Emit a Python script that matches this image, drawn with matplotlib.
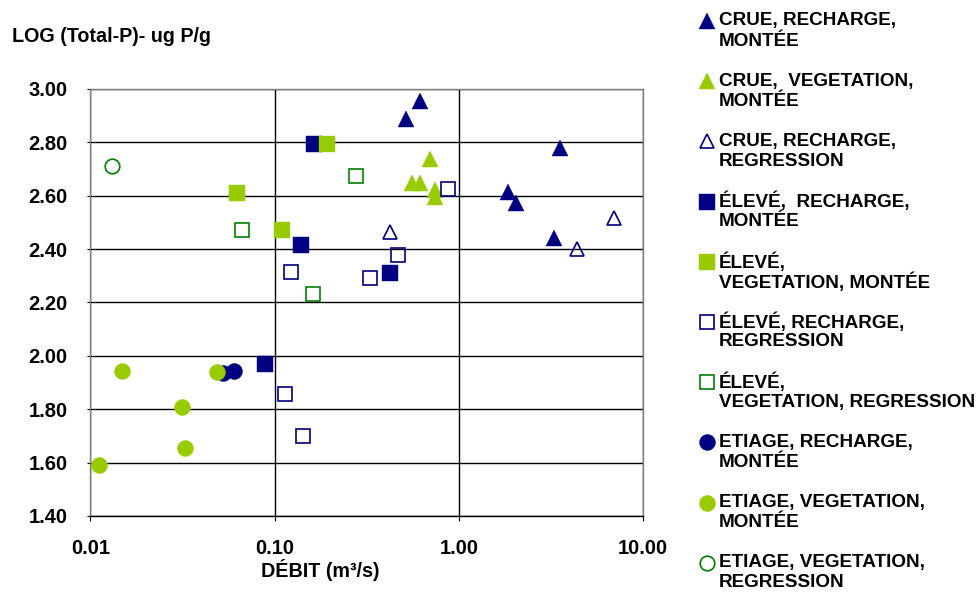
import numpy as np
import matplotlib
matplotlib.use("Agg")
import matplotlib.pyplot as plt
import matplotlib.ticker as mticker

plt.rcParams['font.family'] = ['Liberation Sans', 'DejaVu Sans']
plt.rcParams['font.weight'] = 'bold'

NAVY = '#000080'
LIME = '#99CC00'
GREEN = '#008000'

labels = ["CRUE, RECHARGE,\nMONTÉE",
          "CRUE,  VEGETATION,\nMONTÉE",
          "CRUE, RECHARGE,\nREGRESSION",
          "ÉLEVÉ,  RECHARGE,\nMONTÉE",
          "ÉLEVÉ,\nVEGETATION, MONTÉE",
          "ÉLEVÉ, RECHARGE,\nREGRESSION",
          "ÉLEVÉ,\nVEGETATION, REGRESSION",
          "ETIAGE, RECHARGE,\nMONTÉE",
          "ETIAGE, VEGETATION,\nMONTÉE",
          "ETIAGE, VEGETATION,\nREGRESSION"]

# debit (m3/s) and log(total P) for each group
crue_rech_mont_x = [0.618, 0.514, 3.53, 1.85, 2.05, 3.27]
crue_rech_mont_y = [2.956, 2.888, 2.778, 2.615, 2.574, 2.441]
crue_veg_mont_x = [0.694, 0.557, 0.612, 0.745, 0.745]
crue_veg_mont_y = [2.737, 2.647, 2.649, 2.621, 2.594]
crue_rech_regr_x = [6.93, 4.38, 0.425]
crue_rech_regr_y = [2.515, 2.399, 2.463]
eleve_rech_mont_x = [0.1626, 0.1387, 0.425, 0.0882]
eleve_rech_mont_y = [2.794, 2.415, 2.309, 1.970]
eleve_veg_mont_x = [0.1936, 0.0628, 0.1094]
eleve_veg_mont_y = [2.795, 2.609, 2.471]
eleve_rech_regr_x = [0.873, 0.122, 0.330, 0.465, 0.1135, 0.142]
eleve_rech_regr_y = [2.624, 2.315, 2.293, 2.378, 1.858, 1.699]
eleve_veg_regr_x = [0.275, 0.0668, 0.1615]
eleve_veg_regr_y = [2.675, 2.471, 2.232]
etiage_rech_mont_x = [0.0527, 0.0603]
etiage_rech_mont_y = [1.937, 1.944]
etiage_veg_mont_x = [0.0149, 0.0489, 0.0314, 0.0327, 0.0111]
etiage_veg_mont_y = [1.944, 1.941, 1.807, 1.654, 1.592]
etiage_veg_regr_x = [0.0131]
etiage_veg_regr_y = [2.710]

series = [
    (crue_rech_mont_x, crue_rech_mont_y, '^', NAVY, True),
    (crue_veg_mont_x, crue_veg_mont_y, '^', LIME, True),
    (crue_rech_regr_x, crue_rech_regr_y, '^', NAVY, False),
    (eleve_rech_mont_x, eleve_rech_mont_y, 's', NAVY, True),
    (eleve_veg_mont_x, eleve_veg_mont_y, 's', LIME, True),
    (eleve_rech_regr_x, eleve_rech_regr_y, 's', NAVY, False),
    (eleve_veg_regr_x, eleve_veg_regr_y, 's', GREEN, False),
    (etiage_rech_mont_x, etiage_rech_mont_y, 'o', NAVY, True),
    (etiage_veg_mont_x, etiage_veg_mont_y, 'o', LIME, True),
    (etiage_veg_regr_x, etiage_veg_regr_y, 'o', GREEN, False),
]

fig = plt.figure(figsize=(9.8, 5.92), dpi=100)
ax = fig.add_axes([0.0923, 0.1284, 0.5638, 0.7213])


def style(marker, color, filled):
    if filled:
        return dict(marker=marker, markersize=11.5, markerfacecolor=color,
                    markeredgecolor=color, markeredgewidth=0.3, linestyle='none')
    return dict(marker=marker, markersize=10.5, markerfacecolor='none',
                markeredgecolor=color, markeredgewidth=1.2, linestyle='none')


for x, y, m, c, f in series:
    ax.plot(x, y, **style(m, c, f))

ax.set_xscale('log')
ax.set_xlim(0.01, 10)
ax.set_ylim(1.4, 3.0)
ax.xaxis.set_major_locator(mticker.FixedLocator([0.01, 0.1, 1, 10]))
ax.xaxis.set_minor_locator(mticker.NullLocator())
ax.xaxis.set_major_formatter(mticker.FuncFormatter(lambda v, p: '%.2f' % v))
ax.yaxis.set_major_locator(mticker.MultipleLocator(0.2))
ax.yaxis.set_major_formatter(mticker.FuncFormatter(lambda v, p: '%.2f' % v))
ax.grid(True, color='black', linewidth=1.0)
for s in ['left', 'top', 'right']:
    ax.spines[s].set_color('#808080')
    ax.spines[s].set_linewidth(1.0)
ax.spines['bottom'].set_color('black')
ax.spines['bottom'].set_linewidth(1.0)
ax.tick_params(axis='x', length=3.6, width=0.8, pad=13.0, labelsize=14.5)
ax.tick_params(axis='y', length=2.0, width=0.8, pad=14.5, labelsize=14.5)
for t in ax.get_xticklabels() + ax.get_yticklabels():
    t.set_fontweight('bold')

fig.text(12 / 980, 1 - 37 / 592, 'LOG (Total-P)- ug P/g', fontsize=14.2,
         fontweight='bold', va='center', ha='left')
fig.text(320 / 980, 1 - 570 / 592, 'DÉBIT (m³/s)', fontsize=14.2,
         fontweight='bold', va='center', ha='center')

# legend drawn by hand: marker next to the first line of each label
lax = fig.add_axes([0, 0, 1, 1])
lax.set_xlim(0, 980)
lax.set_ylim(592, 0)
lax.axis('off')
for i, (lab, (x, y, m, c, f)) in enumerate(zip(labels, series)):
    y0 = 21 + 60.2 * i
    lax.plot([706.5], [y0], **style(m, c, f))
    for j, line in enumerate(lab.split('\n')):
        lax.text(719, y0 + 20 * j, line, fontsize=13.6, fontweight='bold',
                 va='center', ha='left')

fig.savefig('out.png', dpi=100)
